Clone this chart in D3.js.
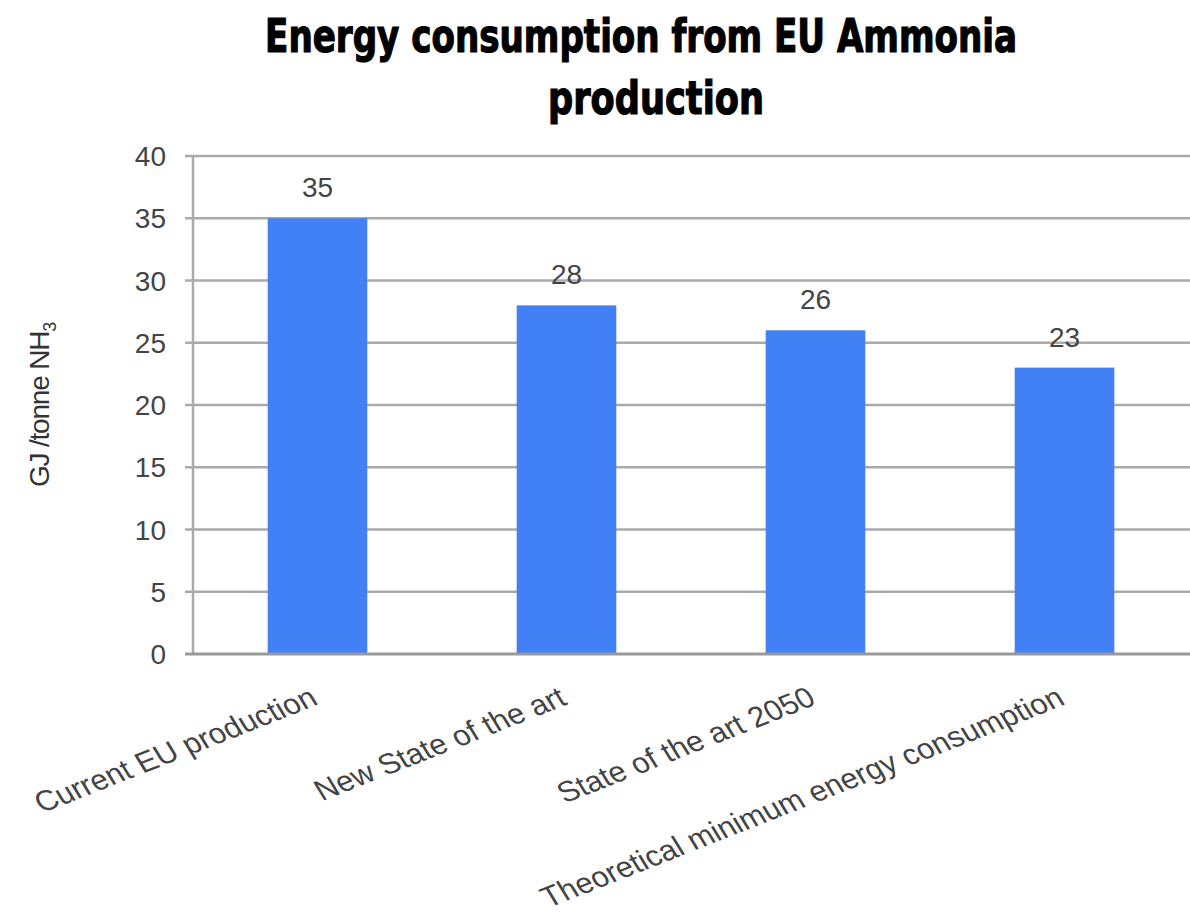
<!DOCTYPE html>
<html><head><meta charset="utf-8">
<script src="https://cdn.jsdelivr.net/npm/d3@7"></script>
<style>body{margin:0;background:#fff}svg{display:block}</style>
</head><body>
<svg id="c" width="1190" height="914"></svg>
<script>
const categories = ["Current EU production","New State of the art","State of the art 2050","Theoretical minimum energy consumption"];
const values = [35, 28, 26, 23];
const yTicks = [0,5,10,15,20,25,30,35,40];
const titleLines = ["Energy consumption from EU Ammonia","production"];

const svg = d3.select("#c");
const L = 193, R = 1189, T = 156, B = 654;
const x = d3.scaleBand().domain(categories).range([L, R]).paddingInner(0.6).paddingOuter(0.3);
const y = d3.scaleLinear().domain([0, 40]).range([B, T]);
const FONT = "Liberation Sans, Arial, sans-serif";

// gridlines
svg.append("g").selectAll("line").data(yTicks.filter(d=>d>0)).join("line")
  .attr("x1", L-8).attr("x2", 1190).attr("y1", d=>y(d)).attr("y2", d=>y(d))
  .attr("stroke", "#aaaaaa").attr("stroke-width", 2.5);
// left axis
svg.append("line").attr("x1", L).attr("x2", L).attr("y1", T).attr("y2", B)
  .attr("stroke", "#aaaaaa").attr("stroke-width", 2.5);

// bars
svg.append("g").selectAll("rect").data(values).join("rect")
  .attr("x", (d,i)=>x(categories[i])).attr("width", x.bandwidth())
  .attr("y", d=>y(d)).attr("height", d=>B - y(d))
  .attr("fill", "#4280f5");

// bottom axis line
svg.append("line").attr("x1", L-8).attr("x2", 1190).attr("y1", B).attr("y2", B)
  .attr("stroke", "#999").attr("stroke-width", 3);

// y tick labels
svg.append("g").selectAll("text").data(yTicks).join("text")
  .attr("x", 166).attr("y", d=>y(d)).attr("dy", "0.36em")
  .attr("text-anchor", "end").attr("font-family", FONT)
  .attr("font-size", 28).attr("fill", "#444").text(d=>d);

// value labels
svg.append("g").selectAll("text").data(values).join("text")
  .attr("x", (d,i)=>x(categories[i]) + x.bandwidth()/2).attr("y", d=>y(d) - 21)
  .attr("text-anchor", "middle").attr("font-family", FONT)
  .attr("font-size", 28).attr("fill", "#444").text(d=>d);

// x labels
svg.append("g").selectAll("text").data(categories).join("text")
  .attr("transform", d=>`translate(${x(d)+x.bandwidth()/2+2},${B+50}) rotate(-21.5) skewX(10)`)
  .attr("text-anchor", "end").attr("font-family", FONT)
  .attr("font-size", 30).attr("fill", "#444").text(d=>d);

// y axis title
const yt = svg.append("text").attr("transform", "translate(49,405) rotate(-90)")
  .attr("text-anchor", "middle").attr("font-family", FONT)
  .attr("font-size", 28).attr("fill", "#333").attr("letter-spacing", -1.2);
yt.append("tspan").text("GJ /tonne NH");
yt.append("tspan").attr("font-size", 18).attr("dy", 7).text("3");

// title (scaled horizontally to the reference widths)
const titleCx = [641, 656], titleW = [752, 216];
svg.append("g").selectAll("text").data(titleLines).join("text")
  .attr("x", 0).attr("y", 0)
  .attr("text-anchor", "middle").attr("font-family", "DejaVu Sans Condensed, DejaVu Sans, sans-serif")
  .attr("font-weight", "bold").attr("font-size", 47).attr("fill", "#000")
  .attr("stroke", "#000").attr("stroke-width", 1.2)
  .text(d=>d)
  .each(function(d,i){
    const w = this.getComputedTextLength();
    d3.select(this).attr("transform", `translate(${titleCx[i]},${52 + i*62}) scale(${titleW[i]/w},1)`);
  });
</script>
</body></html>
